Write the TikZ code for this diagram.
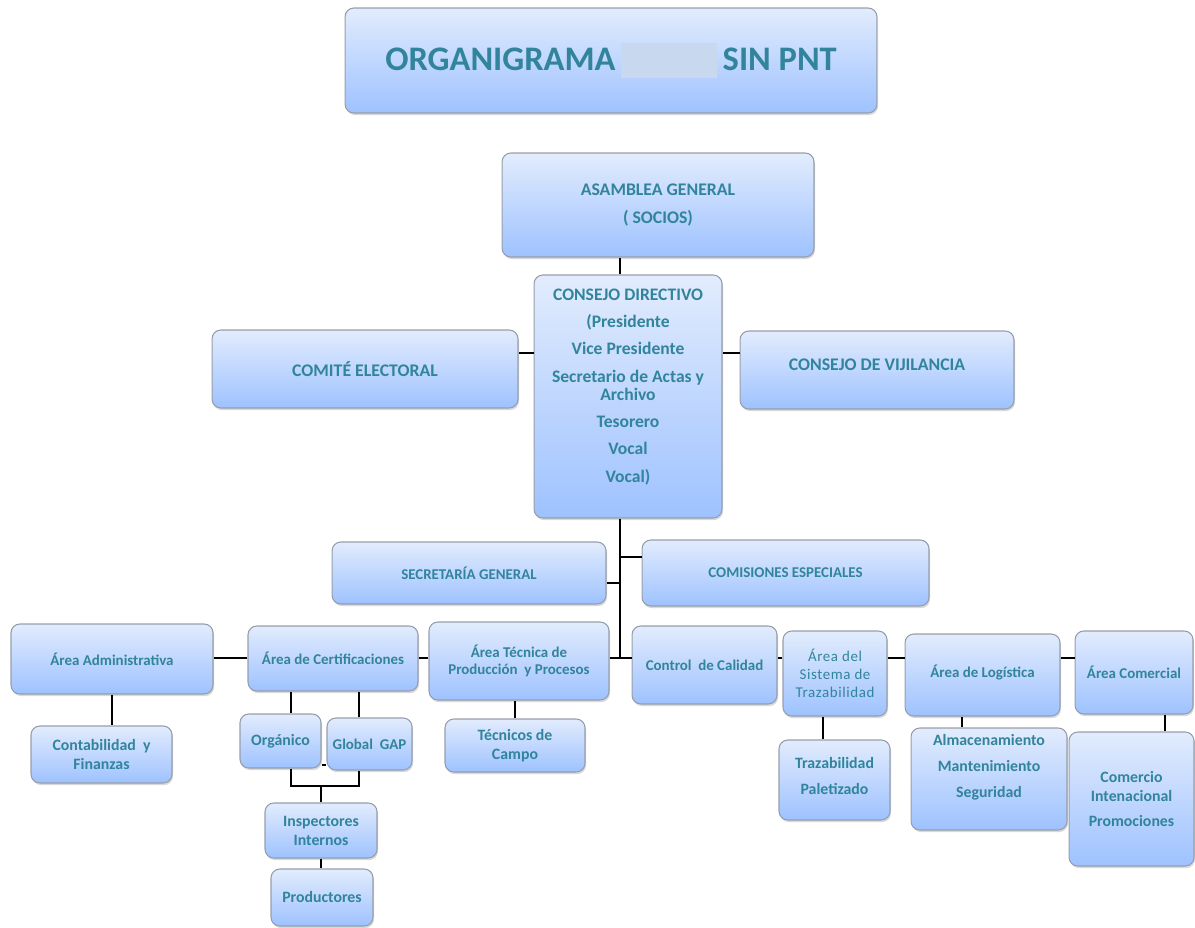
\documentclass[tikz,border=0pt]{standalone}
\usepackage{fontspec}
\setmainfont{Carlito}
\usetikzlibrary{shadows, positioning, calc}
\definecolor{orgteal}{RGB}{49,132,155}
\definecolor{boxtop}{RGB}{226,236,253}
\definecolor{boxbot}{RGB}{158,194,255}
\definecolor{boxline}{RGB}{150,158,172}
\definecolor{redact}{RGB}{200,216,238}

\begin{document}
\begin{tikzpicture}[x=0.02cm, y=-0.02cm,
  obox/.style={draw=boxline, line width=0.6pt, rounded corners=5pt,
               top color=boxtop, bottom color=boxbot,
               drop shadow={opacity=0.3, shadow xshift=0.6pt, shadow yshift=-1.2pt},
               align=center, text=orgteal, inner sep=2pt,
               font=\bfseries\fontsize{8.5}{10}\selectfont},
  big/.style={font=\bfseries\fontsize{10.1}{11}\selectfont},
  sub/.style={font=\bfseries\fontsize{9}{10.8}\selectfont},
  lnk/.style={line width=0.8pt, black}
]
  \useasboundingbox (0,0) rectangle (1195,928);

  \node[obox, minimum width=10.64cm, minimum height=2.1cm,
        font=\bfseries\fontsize{19.6}{22}\selectfont] (title) at (611,60.5)
    {ORGANIGRAMA\hspace{3pt}{\color{redact}\rule[-4.5pt]{55pt}{20pt}}\hspace{3pt}SIN PNT};

  % top of the chart
  \node[obox, big, minimum width=6.24cm, minimum height=2.08cm] (asamblea) at (658,205)
    {ASAMBLEA GENERAL\\[5pt]( SOCIOS)};
  \node[obox, minimum width=3.76cm, minimum height=4.86cm,
        font=\bfseries\fontsize{10}{10.5}\selectfont] (consejo) at (628,396.5)
    {CONSEJO DIRECTIVO\\[5pt](Presidente\\[5pt]Vice Presidente\\[5pt]Secretario de Actas y\\Archivo\\[5pt]Tesorero\\[5pt]Vocal\\[5pt]Vocal)\\[2pt]\mbox{}};
  \node[obox, big, minimum width=6.12cm, minimum height=1.56cm] (comite) at (365,369)
    {COMITÉ ELECTORAL};
  \node[obox, big, minimum width=5.48cm, minimum height=1.56cm] (vijil) at (877,370)
    {CONSEJO DE VIJILANCIA\\[-5.4pt]\mbox{}};

  \node[obox, minimum width=5.48cm, minimum height=1.24cm] (secgen) at (469,573)
    {SECRETARÍA GENERAL};
  \node[obox, minimum width=5.74cm, minimum height=1.32cm] (comis) at (785.5,573)
    {COMISIONES ESPECIALES};

  % areas
  \node[obox, minimum width=4.04cm, minimum height=1.4cm] (admin) at (112,659)
    {Área Administrativa};
  \node[obox, minimum width=3.4cm, minimum height=1.3cm] (cert) at (333,658.5)
    {Área de Certificaciones};
  \node[obox, minimum width=3.6cm, minimum height=1.56cm] (tecnica) at (519,661)
    {Área Técnica de\\Producción\ \ y Procesos};
  \node[obox, minimum width=2.9cm, minimum height=1.56cm] (calidad) at (704.5,665)
    {Control\ \ de Calidad};
  \node[obox, minimum width=2.08cm, minimum height=1.7cm,
        font=\fontsize{8.5}{10.2}\selectfont\addfontfeature{LetterSpace=4}] (trazab) at (835,673.5)
    {Área del\\Sistema de\\Trazabilidad};
  \node[obox, minimum width=3.1cm, minimum height=1.64cm] (logist) at (982.5,675)
    {Área de Logística\\[-6pt]\mbox{}};
  \node[obox, minimum width=2.36cm, minimum height=1.66cm] (comerc) at (1134,672.5)
    {Área Comercial};

  % sub units
  \node[obox, sub, minimum width=2.82cm, minimum height=1.14cm] (conta) at (101.5,754.5)
    {Contabilidad\ \ y\\Finanzas};
  \node[obox, sub, minimum width=1.62cm, minimum height=1.08cm] (organ) at (280.5,741)
    {Orgánico};
  \node[obox, minimum width=1.7cm, minimum height=1.04cm] (gap) at (369.5,744)
    {Global\ \ GAP};
  \node[obox, sub, minimum width=2.24cm, minimum height=1.1cm] (inspect) at (321,830.5)
    {Inspectores\\Internos};
  \node[obox, sub, minimum width=2.04cm, minimum height=1.14cm] (produc) at (322,897.5)
    {Productores};
  \node[obox, sub, minimum width=2.8cm, minimum height=1.06cm] (tcampo) at (515,745.5)
    {Técnicos\ de\\Campo};
  \node[obox, sub, minimum width=2.22cm, minimum height=1.6cm] (trazpal) at (834.5,780)
    {Trazabilidad\\[4pt]Paletizado\\[-6pt]\mbox{}};
  \node[obox, minimum width=3.12cm, minimum height=2.04cm,
        font=\bfseries\fontsize{9}{14.7}\selectfont] (almac) at (989,779)
    {Almacenamiento\\Mantenimiento\\Seguridad\\\mbox{}};
  \node[obox, sub, minimum width=2.5cm, minimum height=2.68cm] (comercio) at (1131.5,799)
    {Comercio\\Intenacional\\[3.4pt]Promociones};

  % connectors
  \coordinate (tk) at (620,658);
  \coordinate (cj) at (320,786);

  \draw[lnk] (asamblea.south -| tk) -- (consejo.north -| tk);
  \draw[lnk] ([yshift=.32cm]comite.east) -- ([yshift=.32cm]comite.east -| consejo.west);
  \draw[lnk] ([yshift=.34cm]vijil.west) -- ([yshift=.34cm]vijil.west -| consejo.east);
  \draw[lnk] (consejo.south -| tk) -- (tk);
  \draw[lnk] ([yshift=-.2cm]secgen.east) -- ([yshift=-.2cm]secgen.east -| tk);
  \draw[lnk] ([yshift=.32cm]comis.west) -- ([yshift=.32cm]comis.west -| tk);
  \draw[lnk] (tecnica.east |- tk) -- (calidad.west |- tk);

  \draw[lnk] (admin.east |- tk) -- (cert.west |- tk);
  \draw[lnk] (cert.east |- tk) -- (tecnica.west |- tk);
  \draw[lnk] (calidad.east |- tk) -- (trazab.west |- tk);
  \draw[lnk] (trazab.east |- tk) -- (logist.west |- tk);
  \draw[lnk] (logist.east |- tk) -- (comerc.west |- tk);

  \draw[lnk] (admin.south) -- (admin.south |- conta.north);
  \draw[lnk] ([xshift=.21cm]organ.north) -- ([xshift=.21cm]organ.north |- cert.south);
  \draw[lnk] ([xshift=-.21cm]gap.north) -- ([xshift=-.21cm]gap.north |- cert.south);
  \draw[lnk] ([yshift=-.48cm]organ.east) -- ([yshift=-.48cm]organ.east -| gap.west);
  \draw[lnk] ([xshift=.21cm]organ.south) |- ([xshift=-.21cm]gap.south |- cj)
    -- ([xshift=-.21cm]gap.south);
  \draw[lnk] (inspect.north |- cj) -- (inspect.north);
  \draw[lnk] (inspect.south) -- (inspect.south |- produc.north);
  \draw[lnk] (tcampo.north) -- (tcampo.north |- tecnica.south);
  \draw[lnk] ([xshift=-.24cm]trazab.south) -- ([xshift=-.24cm]trazab.south |- trazpal.north);
  \draw[lnk] ([xshift=-.41cm]logist.south) -- ([xshift=-.41cm]logist.south |- almac.north);
  \draw[lnk] ([xshift=.62cm]comerc.south) -- ([xshift=.62cm]comerc.south |- comercio.north);
\end{tikzpicture}
\end{document}
